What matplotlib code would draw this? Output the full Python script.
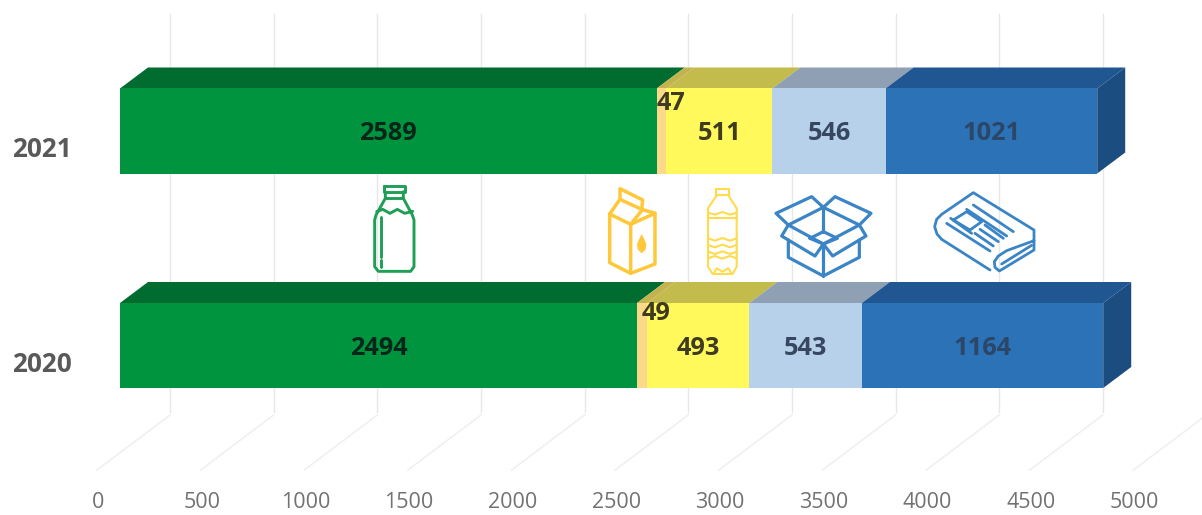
import matplotlib
matplotlib.use("Agg")
import matplotlib.pyplot as plt
from matplotlib.patches import Polygon
from matplotlib.transforms import Affine2D

plt.rcParams['font.family'] = ['Open Sans', 'DejaVu Sans']

years = ["2020", "2021"]
milk = [2494, 2589]
carton = [49, 47]
pet = [493, 511]
cardboard = [543, 546]
paper = [1164, 1021]
ticks = [0, 500, 1000, 1500, 2000, 2500, 3000, 3500, 4000, 4500, 5000]

series = [milk, carton, pet, cardboard, paper]
front_cols = ["#00943f", "#fbd98a", "#fff95c", "#b7d1ea", "#2c72b6"]
top_cols = ["#006c2f", "#c3b34f", "#c4bb4d", "#8f9fb4", "#205792"]
side_col = "#1c4d80"
label_cols = ["#06261a", "#3f3a22", "#3f3a22", "#37475f", "#2b4666"]

W, H = 1202, 515
fig = plt.figure(figsize=(W / 100, H / 100), dpi=100, facecolor="white")
ax = fig.add_axes([0, 0, 1, 1])
PX_X = 0.2073
PX_Y = 214.5
ax.set_xlim(-120 / PX_X, (W - 120) / PX_X)
ax.set_ylim(-(H - 345.5) / PX_Y, 345.5 / PX_Y)
ax.axis("off")

bar_h = 85 / PX_Y
dx, dy = 28 / PX_X, 21 / PX_Y
px = Affine2D().scale(1, -1).translate(0, H)   # pixel coordinates for the pictograms

# walls and floor grid
wall_dx = 50 / PX_X
wall_top, wall_bot = (345.5 - 14) / PX_Y, (345.5 - 412) / PX_Y
floor_bot = (345.5 - 470) / PX_Y
floor_dx = -23 / PX_X
for t in ticks:
    ax.plot([t + wall_dx] * 2, [wall_top, wall_bot], color="#e8e8e8", lw=1, zorder=1)
    ax.plot([t + wall_dx, t + floor_dx], [wall_bot - 3 / PX_Y, floor_bot], color="#f0f0f0", lw=1.2, zorder=1)
    ax.text(t + floor_dx + 1 / PX_X, (345.5 - 502.5) / PX_Y, str(t), ha="center", va="center",
            fontsize=15.5, color="#727272", zorder=5)

label_off = {(0, 1): (14, -32), (1, 1): (9, -27)}
for k, year in enumerate(years):
    left = 0
    yb, yt = k - bar_h / 2, k + bar_h / 2
    for s, vals in enumerate(series):
        v = vals[k]
        ax.add_patch(Polygon([(left, yt), (left + dx, yt + dy), (left + v + dx, yt + dy), (left + v, yt)],
                             fc=top_cols[s], ec="none", zorder=2))
        ax.barh(k, v, left=left, height=bar_h, color=front_cols[s], lw=0, zorder=3)
        ox, oy = label_off.get((k, s), (0, 3))
        ax.text(left + v / 2 + ox / PX_X, k - oy / PX_Y, str(v), ha="center", va="center",
                fontsize=18.3, fontweight="bold", color=label_cols[s], zorder=6)
        left += v
    ax.add_patch(Polygon([(left, yb), (left + dx, yb + dy), (left + dx, yt + dy), (left, yt)],
                         fc=side_col, ec="none", zorder=2))
    ax.text(-120 / PX_X + 42 / PX_X, k - 18.5 / PX_Y, year, ha="center", va="center",
            fontsize=18.8, fontweight="bold", color="#595959", zorder=6)


def draw(paths, ox, oy, color, lw):
    for p in paths:
        ax.plot([ox + a / 3 for a, _ in p], [oy + b / 3 for _, b in p], color=color, lw=lw,
                transform=px, solid_joinstyle="round", solid_capstyle="round", zorder=7, clip_on=False)


GREEN, ORANGE, YEL, BLUE = "#1f9f55", "#ffc83a", "#ffdb4d", "#3b85c6"
# milk bottle
draw([[(132, 48), (196, 48), (196, 65), (132, 65), (132, 48)],
      [(136, 65), (136, 85), (108, 135), (104, 150), (104, 290), (115, 304), (212, 304), (222, 290), (222, 150),
       (217, 135), (190, 85), (190, 65)],
      [(136, 85), (190, 85)],
      [(110, 125), (128, 118), (150, 130), (172, 118), (194, 130), (218, 124)],
      [(124, 142), (124, 262)], [(124, 270), (124, 292)]], 340, 170, GREEN, 2.1)
# carton
draw([[(809, 132), (872, 163), (872, 310), (809, 278), (809, 132)],
      [(872, 163), (945, 130), (945, 282), (872, 310)],
      [(809, 132), (840, 88), (905, 118), (945, 130)],
      [(840, 88), (840, 56), (908, 90), (905, 118)],
      [(872, 163), (905, 122)]], 340, 170, ORANGE, 2.5)
drop = [(905, 192), (912, 206), (919, 222), (917, 238), (905, 250), (893, 238), (891, 222), (898, 206)]
ax.add_patch(Polygon([(a / 3 + 340, b / 3 + 170) for a, b in drop], fc=ORANGE, ec="none", transform=px, zorder=7))
# plastic bottle
draw([[(1127, 57), (1167, 57), (1167, 76), (1127, 76), (1127, 57)],
      [(1130, 76), (1104, 115), (1104, 290), (1118, 312), (1178, 312), (1190, 290), (1190, 115), (1165, 76)],
      [(1104, 128), (1125, 134), (1147, 126), (1170, 134), (1190, 128)],
      [(1104, 145), (1190, 145)],
      [(1104, 205), (1125, 212), (1147, 204), (1170, 212), (1190, 205)],
      [(1104, 225), (1125, 232), (1147, 224), (1170, 232), (1190, 225)],
      [(1104, 245), (1125, 252), (1147, 244), (1170, 252), (1190, 245)],
      [(1104, 265), (1125, 258), (1147, 266), (1170, 258), (1190, 265)],
      [(1120, 312), (1130, 295), (1147, 305), (1165, 295), (1176, 312)]], 340, 170, YEL, 1.5)
# box
draw([[(190, 112), (155, 80), (48, 130), (85, 165), (190, 112)],
      [(190, 112), (225, 80), (333, 130), (298, 165), (190, 112)],
      [(85, 165), (190, 222), (298, 165)],
      [(190, 112), (190, 185)],
      [(85, 165), (65, 198), (165, 258), (190, 222), (218, 258), (318, 198), (298, 165)],
      [(150, 205), (190, 185), (232, 205), (190, 222), (150, 205)],
      [(85, 210), (85, 262), (190, 318), (298, 262), (298, 210)],
      [(190, 222), (190, 318)]], 760, 170, BLUE, 2.3)
# newspaper
draw([[(690, 300), (545, 208), (531, 192), (524, 170), (530, 148), (545, 133), (640, 68), (822, 180), (822, 240),
       (718, 303), (705, 292), (703, 275), (715, 258), (740, 242), (822, 212)],
      [(725, 282), (815, 226)],
      [(580, 150), (620, 125), (665, 155), (630, 180), (580, 150)],
      [(640, 105), (760, 185)], [(620, 118), (740, 198)], [(675, 165), (730, 205)],
      [(660, 178), (715, 215)], [(645, 190), (700, 228)],
      [(560, 160), (690, 243)], [(572, 145), (635, 190)]], 760, 170, BLUE, 2.0)

fig.savefig("out.png", dpi=100, facecolor="white")
